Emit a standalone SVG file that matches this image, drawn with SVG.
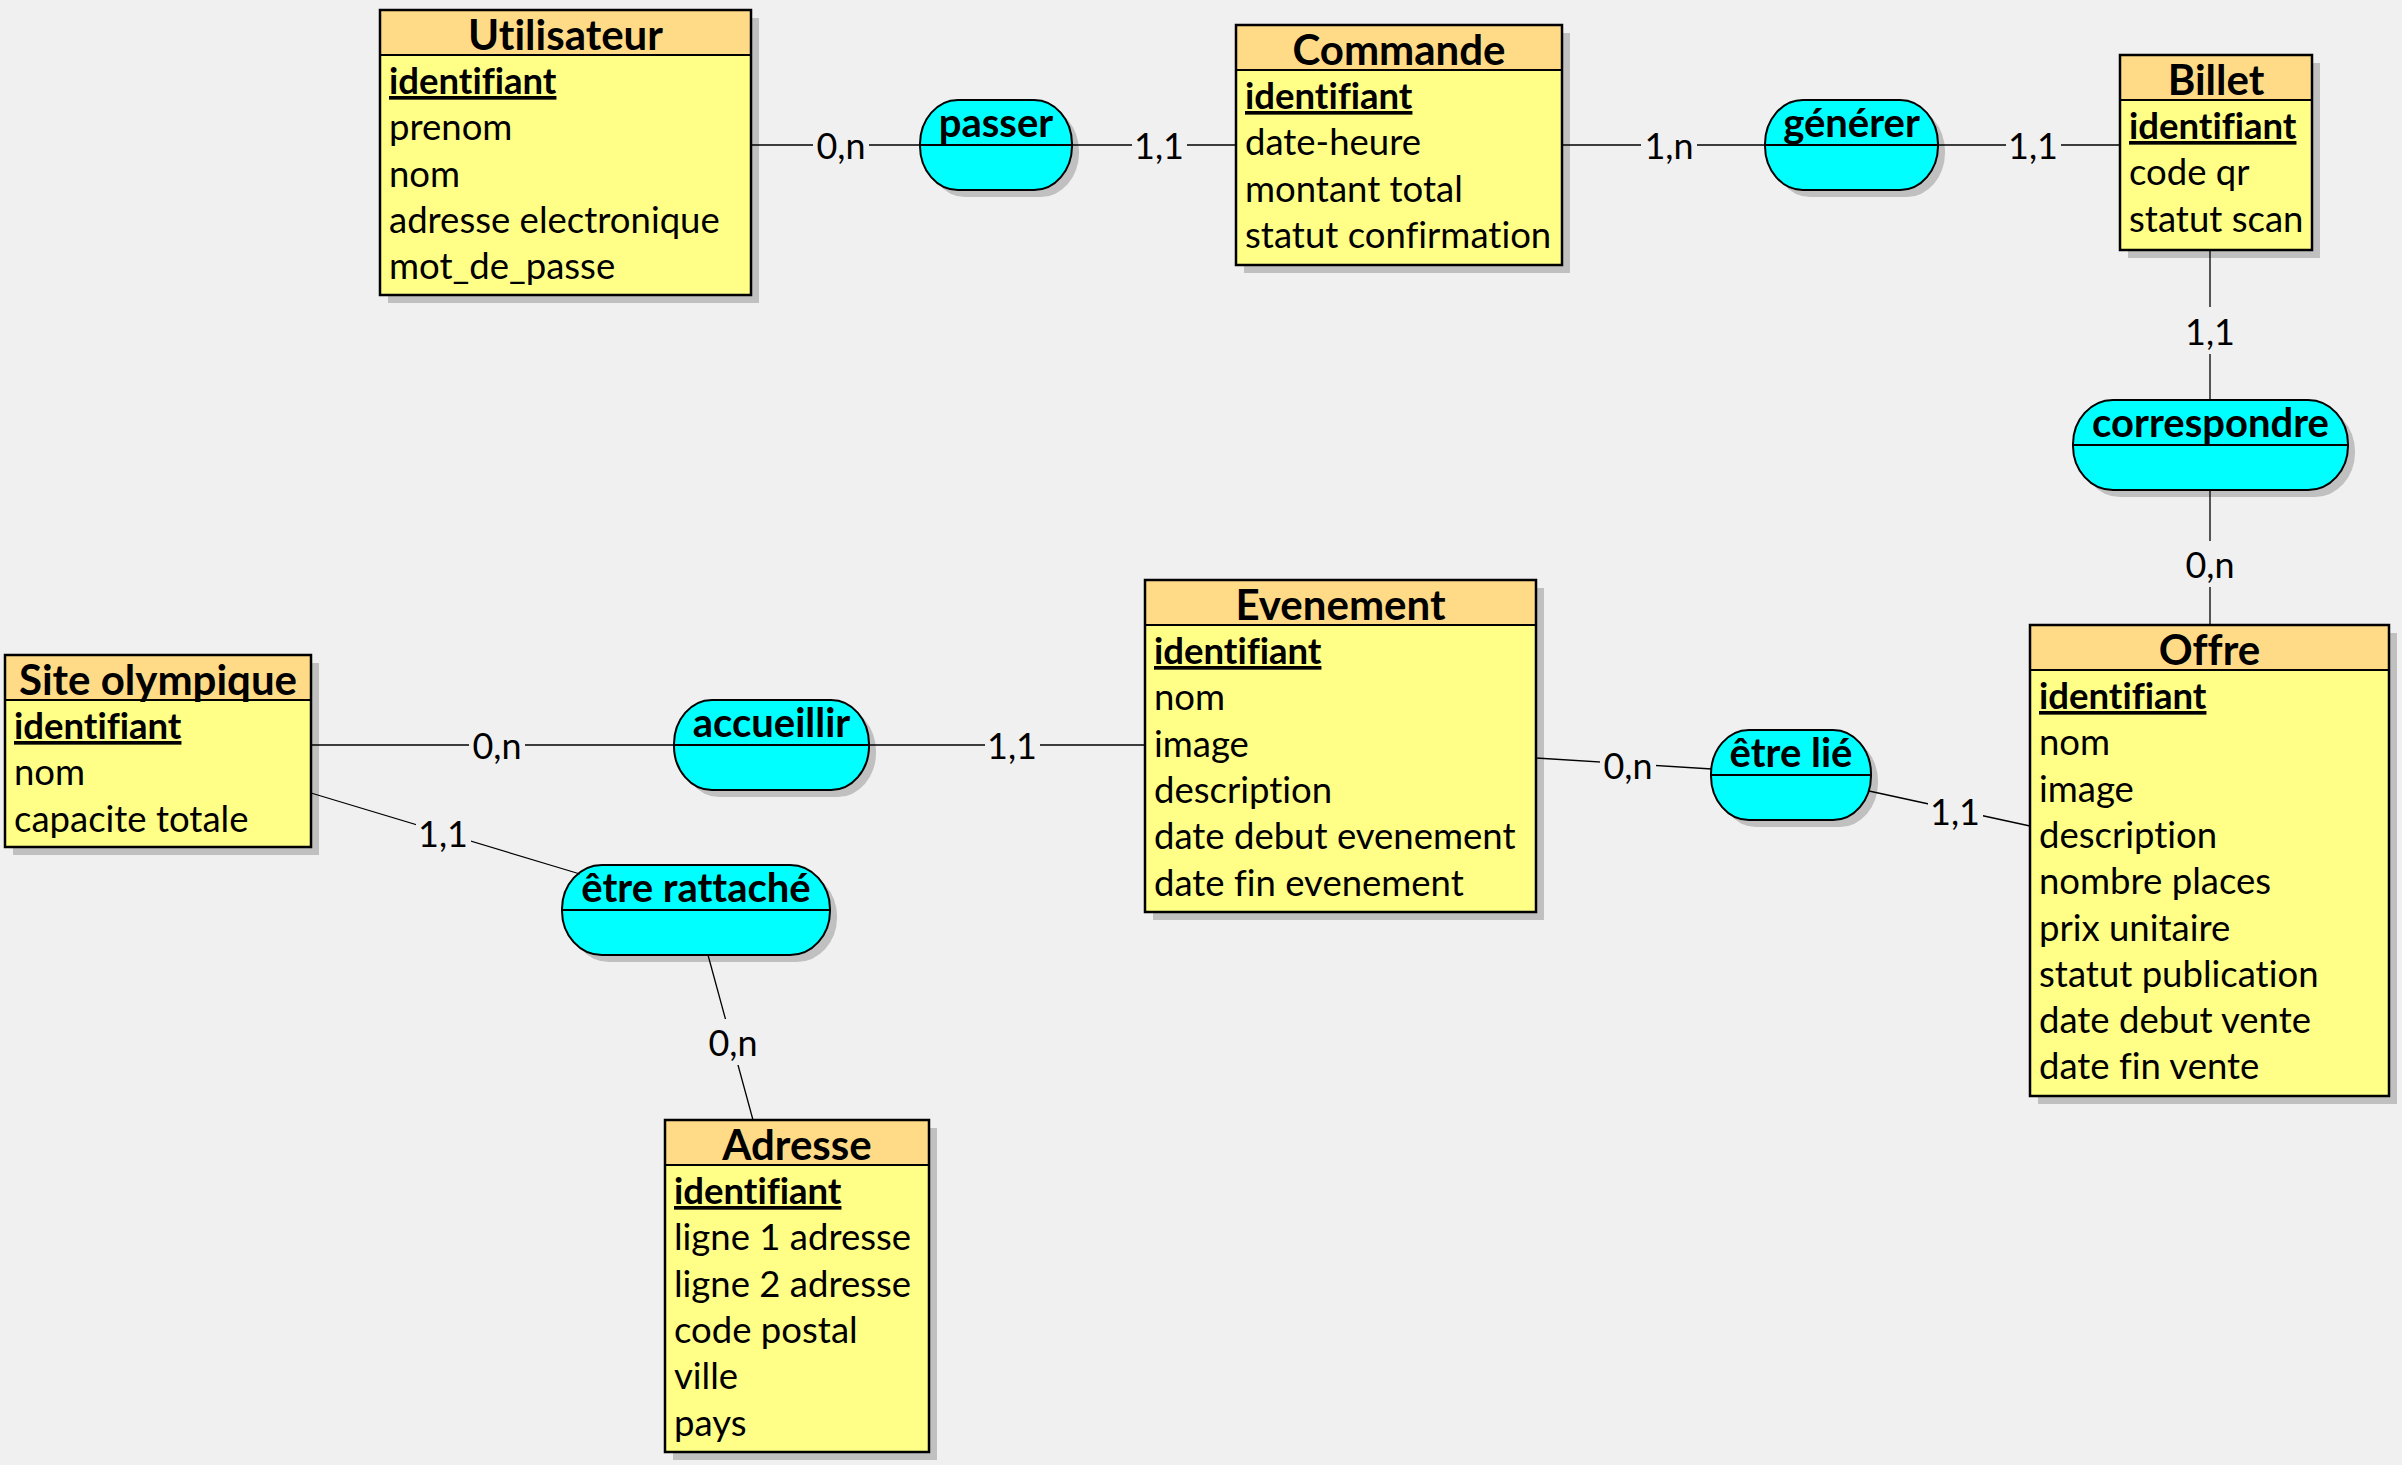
<svg xmlns="http://www.w3.org/2000/svg" width="2402" height="1465" viewBox="0 0 2402 1465">
<style>
text{font-variant-ligatures:none}
.bg{fill:#f0f0f0}
.sh{fill:#c0c0c0}
.body{fill:#ffff88}
.hdr{fill:#ffdb87;stroke:#000;stroke-width:2}
.frame{fill:none;stroke:#000;stroke-width:2.5}
.title{font-family:Lato,"Liberation Sans",sans-serif;font-weight:bold;font-size:42px;text-anchor:middle;fill:#000}
.attr{font-family:Lato,"Liberation Sans",sans-serif;font-size:36.5px;fill:#000}
.pk{font-family:Lato,"Liberation Sans",sans-serif;font-size:36.5px;font-weight:bold;text-decoration:underline;fill:#000}
.assoc{fill:#00ffff;stroke:#000;stroke-width:2}
.mid{stroke:#000;stroke-width:2}
.atitle{font-family:Lato,"Liberation Sans",sans-serif;font-weight:bold;font-size:40px;text-anchor:middle;fill:#000}
.link{stroke:#000;stroke-width:1.3;fill:none}
.card{font-family:Lato,"Liberation Sans",sans-serif;font-size:36px;text-anchor:middle;fill:#000}
</style>
<rect class="bg" x="0" y="0" width="2402" height="1465"/>

<g id="utilisateur">
<rect class="sh" x="388" y="18" width="371" height="285"/>
<rect class="body" x="380" y="10" width="371" height="285"/>
<rect class="hdr" x="380" y="10" width="371" height="45"/>
<rect class="frame" x="380" y="10" width="371" height="285"/>
<text class="title" x="565.5" y="50">Utilisateur</text>
<text class="pk" x="389" y="94">identifiant</text>
<text class="attr" x="389" y="140.3">prenom</text>
<text class="attr" x="389" y="186.6">nom</text>
<text class="attr" x="389" y="232.9">adresse electronique</text>
<text class="attr" x="389" y="279.2">mot_de_passe</text>
</g>

<g id="commande">
<rect class="sh" x="1244" y="33" width="326" height="240"/>
<rect class="body" x="1236" y="25" width="326" height="240"/>
<rect class="hdr" x="1236" y="25" width="326" height="45"/>
<rect class="frame" x="1236" y="25" width="326" height="240"/>
<text class="title" x="1399" y="65">Commande</text>
<text class="pk" x="1245" y="109">identifiant</text>
<text class="attr" x="1245" y="155.3">date-heure</text>
<text class="attr" x="1245" y="201.6">montant total</text>
<text class="attr" x="1245" y="247.9">statut confirmation</text>
</g>

<g id="billet">
<rect class="sh" x="2128" y="63" width="192" height="195"/>
<rect class="body" x="2120" y="55" width="192" height="195"/>
<rect class="hdr" x="2120" y="55" width="192" height="45"/>
<rect class="frame" x="2120" y="55" width="192" height="195"/>
<text class="title" x="2216" y="95">Billet</text>
<text class="pk" x="2129" y="139">identifiant</text>
<text class="attr" x="2129" y="185.3">code qr</text>
<text class="attr" x="2129" y="231.6">statut scan</text>
</g>

<g id="site-olympique">
<rect class="sh" x="13" y="663" width="306" height="192"/>
<rect class="body" x="5" y="655" width="306" height="192"/>
<rect class="hdr" x="5" y="655" width="306" height="45"/>
<rect class="frame" x="5" y="655" width="306" height="192"/>
<text class="title" x="158" y="695">Site olympique</text>
<text class="pk" x="14" y="739">identifiant</text>
<text class="attr" x="14" y="785.3">nom</text>
<text class="attr" x="14" y="831.6">capacite totale</text>
</g>

<g id="evenement">
<rect class="sh" x="1153" y="588" width="391" height="332"/>
<rect class="body" x="1145" y="580" width="391" height="332"/>
<rect class="hdr" x="1145" y="580" width="391" height="45"/>
<rect class="frame" x="1145" y="580" width="391" height="332"/>
<text class="title" x="1340.5" y="620">Evenement</text>
<text class="pk" x="1154" y="664">identifiant</text>
<text class="attr" x="1154" y="710.3">nom</text>
<text class="attr" x="1154" y="756.6">image</text>
<text class="attr" x="1154" y="802.9">description</text>
<text class="attr" x="1154" y="849.2">date debut evenement</text>
<text class="attr" x="1154" y="895.5">date fin evenement</text>
</g>

<g id="offre">
<rect class="sh" x="2038" y="633" width="359" height="471"/>
<rect class="body" x="2030" y="625" width="359" height="471"/>
<rect class="hdr" x="2030" y="625" width="359" height="45"/>
<rect class="frame" x="2030" y="625" width="359" height="471"/>
<text class="title" x="2209.5" y="665">Offre</text>
<text class="pk" x="2039" y="709">identifiant</text>
<text class="attr" x="2039" y="755.3">nom</text>
<text class="attr" x="2039" y="801.6">image</text>
<text class="attr" x="2039" y="847.9">description</text>
<text class="attr" x="2039" y="894.2">nombre places</text>
<text class="attr" x="2039" y="940.5">prix unitaire</text>
<text class="attr" x="2039" y="986.8">statut publication</text>
<text class="attr" x="2039" y="1033.1">date debut vente</text>
<text class="attr" x="2039" y="1079.4">date fin vente</text>
</g>

<g id="adresse">
<rect class="sh" x="673" y="1128" width="264" height="332"/>
<rect class="body" x="665" y="1120" width="264" height="332"/>
<rect class="hdr" x="665" y="1120" width="264" height="45"/>
<rect class="frame" x="665" y="1120" width="264" height="332"/>
<text class="title" x="797" y="1160">Adresse</text>
<text class="pk" x="674" y="1204">identifiant</text>
<text class="attr" x="674" y="1250.3">ligne 1 adresse</text>
<text class="attr" x="674" y="1296.6">ligne 2 adresse</text>
<text class="attr" x="674" y="1342.9">code postal</text>
<text class="attr" x="674" y="1389.2">ville</text>
<text class="attr" x="674" y="1435.5">pays</text>
</g>

<g id="passer">
<rect class="sh" x="927" y="107" width="152" height="90" rx="38" ry="44"/>
<rect class="assoc" x="920" y="100" width="152" height="90" rx="38" ry="44"/>
<line class="mid" x1="920" y1="145" x2="1072" y2="145"/>
<text class="atitle" x="996" y="137">passer</text>
</g>

<g id="generer">
<rect class="sh" x="1772" y="107" width="173" height="90" rx="38" ry="44"/>
<rect class="assoc" x="1765" y="100" width="173" height="90" rx="38" ry="44"/>
<line class="mid" x1="1765" y1="145" x2="1938" y2="145"/>
<text class="atitle" x="1851.5" y="137">générer</text>
</g>

<g id="correspondre">
<rect class="sh" x="2080" y="407" width="275" height="90" rx="40" ry="44"/>
<rect class="assoc" x="2073" y="400" width="275" height="90" rx="40" ry="44"/>
<line class="mid" x1="2073" y1="445" x2="2348" y2="445"/>
<text class="atitle" x="2210.5" y="437">correspondre</text>
</g>

<g id="accueillir">
<rect class="sh" x="681" y="707" width="195" height="90" rx="38" ry="44"/>
<rect class="assoc" x="674" y="700" width="195" height="90" rx="38" ry="44"/>
<line class="mid" x1="674" y1="745" x2="869" y2="745"/>
<text class="atitle" x="771.5" y="737">accueillir</text>
</g>

<g id="etre-rattache">
<rect class="sh" x="569" y="872" width="268" height="90" rx="40" ry="44"/>
<rect class="assoc" x="562" y="865" width="268" height="90" rx="40" ry="44"/>
<line class="mid" x1="562" y1="910" x2="830" y2="910"/>
<text class="atitle" x="696" y="902">être rattaché</text>
</g>

<g id="etre-lie">
<rect class="sh" x="1718" y="737" width="160" height="90" rx="38" ry="44"/>
<rect class="assoc" x="1711" y="730" width="160" height="90" rx="38" ry="44"/>
<line class="mid" x1="1711" y1="775" x2="1871" y2="775"/>
<text class="atitle" x="1791" y="767">être lié</text>
</g>

<g id="connectors">
<line class="link" x1="751" y1="145" x2="920" y2="145"/>
<rect class="bg" x="813" y="122" width="56" height="46"/>
<text class="card" x="841" y="159">0,n</text>

<line class="link" x1="1072" y1="145" x2="1236" y2="145"/>
<rect class="bg" x="1132" y="122" width="55" height="46"/>
<text class="card" x="1159" y="159">1,1</text>

<line class="link" x1="1562" y1="145" x2="1765" y2="145"/>
<rect class="bg" x="1641" y="122" width="56" height="46"/>
<text class="card" x="1669" y="159">1,n</text>

<line class="link" x1="1938" y1="145" x2="2120" y2="145"/>
<rect class="bg" x="2006" y="122" width="55" height="46"/>
<text class="card" x="2033" y="159">1,1</text>

<line class="link" x1="2210" y1="250" x2="2210" y2="400"/>
<rect class="bg" x="2182" y="307" width="56" height="47"/>
<text class="card" x="2210" y="345">1,1</text>

<line class="link" x1="2210" y1="490" x2="2210" y2="625"/>
<rect class="bg" x="2182" y="541" width="56" height="46"/>
<text class="card" x="2210" y="578">0,n</text>

<line class="link" x1="311" y1="745" x2="674" y2="745"/>
<rect class="bg" x="469" y="722" width="56" height="46"/>
<text class="card" x="497" y="759">0,n</text>

<line class="link" x1="869" y1="745" x2="1145" y2="745"/>
<rect class="bg" x="985" y="722" width="55" height="46"/>
<text class="card" x="1012" y="759">1,1</text>

<line class="link" x1="1536" y1="758" x2="1712" y2="769"/>
<rect class="bg" x="1600" y="742" width="56" height="46"/>
<text class="card" x="1628" y="779">0,n</text>

<line class="link" x1="1869" y1="791" x2="2030" y2="826"/>
<rect class="bg" x="1928" y="788" width="55" height="46"/>
<text class="card" x="1955" y="825">1,1</text>

<line class="link" x1="311" y1="793" x2="580" y2="874"/>
<rect class="bg" x="416" y="810" width="55" height="46"/>
<text class="card" x="443" y="847">1,1</text>

<line class="link" x1="708" y1="955" x2="753" y2="1120"/>
<rect class="bg" x="705" y="1019" width="56" height="46"/>
<text class="card" x="733" y="1056">0,n</text>
</g>
</svg>
